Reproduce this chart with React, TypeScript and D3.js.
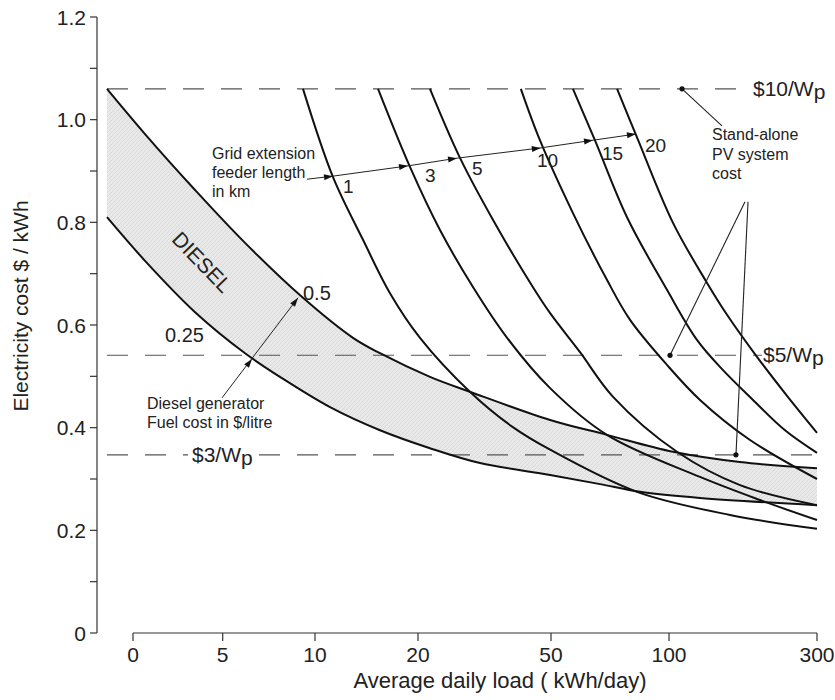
import React from 'react';
import * as d3 from 'd3';

// ---------- data ----------
const xTickValues = [0, 5, 10, 20, 50, 100, 300];
const yTickValues = [0, 0.2, 0.4, 0.6, 0.8, 1.0, 1.2];
const yMinorTickValues = [0.1, 0.3, 0.5, 0.7, 0.9, 1.1];

// Diesel generator cost curves: [load kWh/day, cost $/kWh]
const diesel050 = [[-1.45, 1.06], [0.67, 0.972], [3.46, 0.863], [6.21, 0.76], [9.35, 0.653], [13.69, 0.575], [16.31, 0.545], [22.7, 0.499], [31.7, 0.47], [49.8, 0.415], [73.7, 0.386], [105.4, 0.353], [196, 0.333], [300, 0.321]];
const diesel025 = [[-1.45, 0.81], [0.67, 0.725], [3.46, 0.625], [6.21, 0.545], [8.1, 0.499], [11.46, 0.44], [16.31, 0.395], [22.7, 0.36], [34.0, 0.331], [49.8, 0.308], [70.8, 0.29], [87.7, 0.275], [141.9, 0.263], [300, 0.249]];

// Grid extension cost curves by feeder length (km)
const grid1 = [[9.35, 1.06], [11.75, 0.888], [14.66, 0.766], [17.28, 0.662], [20.45, 0.575], [31.7, 0.47], [41.4, 0.401], [49.8, 0.357], [86.4, 0.275], [182.4, 0.23], [300, 0.203]];
const grid3 = [[16.12, 1.06], [19.22, 0.908], [24.96, 0.785], [32.4, 0.674], [40.1, 0.575], [49.8, 0.477], [73.7, 0.386], [141.9, 0.304], [223, 0.259], [300, 0.22]];
const grid5 = [[22.7, 1.06], [29.5, 0.925], [36.9, 0.805], [45.9, 0.674], [49.8, 0.623], [62.3, 0.547], [76.3, 0.46], [110.8, 0.353], [196, 0.288], [300, 0.249]];
const grid10 = [[43.2, 1.06], [47.5, 0.96], [59.3, 0.818], [73.7, 0.688], [83.5, 0.61], [99.2, 0.522], [141.9, 0.454], [209.5, 0.376], [300, 0.3]];
const grid15 = [[59.3, 1.06], [68.6, 0.96], [82.2, 0.81], [99.2, 0.668], [137.8, 0.571], [173, 0.512], [213.5, 0.454], [256.8, 0.395], [300, 0.351]];
const grid20 = [[78.0, 1.06], [86.4, 0.966], [105.4, 0.799], [151.4, 0.682], [178.4, 0.62], [218.9, 0.538], [259.5, 0.462], [300, 0.39]];
const gridSeries = [grid1, grid3, grid5, grid10, grid15, grid20];
const feederLabels = ['1', '3', '5', '10', '15', '20'];

// Stand-alone PV system cost levels
const pvLabels = ['$10/W', '$5/W', '$3/W'];
const pvCosts = [1.06, 0.541, 0.347];

// Annotation anchor points (data units)
const feederArrow = [[9.57, 0.884], [11.75, 0.89], [19.03, 0.91], [28.8, 0.925], [47.7, 0.945], [67.8, 0.96], [86.0, 0.972]];
const fuelArrow = [[4.96, 0.458], [6.59, 0.534], [9.08, 0.653]];
const pvDots = [[117.6, 1.06], [101.4, 0.541], [190.5, 0.347]];
const pvLineStarts = [[171.6, 0.988], [202.7, 0.84], [206.8, 0.84]];

// ---------- layout ----------
const W = 835, H = 700;
const FONT = '"Liberation Sans", Arial, Helvetica, sans-serif';
const xRange = [133, 222.7, 315, 418, 551, 669, 817];

const xScale = d3.scaleLinear().domain(xTickValues).range(xRange);
const yScale = d3.scaleLinear().domain([0, 1.2]).range([633, 17]);

const lineGen = d3.line<number[]>()
  .x(d => xScale(d[0]))
  .y(d => yScale(d[1]))
  .curve(d3.curveCatmullRom.alpha(0.5));

function arrowHead(p0: number[], p1: number[], len = 9, half = 3) {
  const x0 = xScale(p0[0]), y0 = yScale(p0[1]);
  const x1 = xScale(p1[0]), y1 = yScale(p1[1]);
  const dx = x1 - x0, dy = y1 - y0;
  const L = Math.hypot(dx, dy) || 1;
  const ux = dx / L, uy = dy / L;
  const bx = x1 - ux * len, by = y1 - uy * len;
  return `${x1},${y1} ${bx - uy * half},${by + ux * half} ${bx + uy * half},${by - ux * half}`;
}

export default function App() {
  const shade = lineGen(diesel050) + 'L' + (lineGen(diesel025.slice().reverse()) as string).substring(1) + 'Z';
  const axisColor = '#333';
  const curveColor = '#111';
  const dashColor = '#555';
  const xAxisY = yScale(0);
  const yAxisX = 97;
  const pvLineStartX = xScale(-1.45);
  const pvLineEndX = [xScale(212), xScale(225.7), xScale(300)];
  const pvLabelX = [753, 763, 192];

  const feederPts = feederArrow.map(p => [xScale(p[0]), yScale(p[1])]);
  const feederLabelPos = [[343, 193], [425, 182], [472, 175], [537, 167], [602, 160], [645, 152]];

  return (
    <svg width={W} height={H} style={{ position: 'absolute', left: 0, top: 0, background: '#fff' }} fontFamily={FONT}>
      <defs>
        <pattern id="hatch" width="4" height="4" patternUnits="userSpaceOnUse">
          <rect width="4" height="4" fill="#e9e9e9" />
          <path d="M0,4 L4,0" stroke="#d4d4d4" strokeWidth="0.8" />
        </pattern>
      </defs>

      {/* diesel band shading */}
      <path d={shade} fill="url(#hatch)" stroke="none" />

      {/* PV cost dashed lines */}
      {pvCosts.map((c, i) => (
        <line key={'pv' + i} x1={pvLineStartX} x2={pvLineEndX[i]} y1={yScale(c)} y2={yScale(c)}
          stroke={dashColor} strokeWidth={1.1} strokeDasharray="21 17" />
      ))}
      <rect x={188} y={yScale(pvCosts[2]) - 12} width={70} height={24} fill="#fff" />
      {pvLabels.map((t, i) => (
        <text key={'pvl' + i} x={pvLabelX[i]} y={yScale(pvCosts[i]) + 7} fontSize={21} fill="#222">
          {t}<tspan dy={3}>p</tspan>
        </text>
      ))}

      {/* axes */}
      <line x1={yAxisX} x2={yAxisX} y1={yScale(1.2)} y2={yScale(0)} stroke={axisColor} strokeWidth={1.2} />
      {yTickValues.concat(yMinorTickValues).map(v => (
        <line key={'yt' + v} x1={yAxisX - 7} x2={yAxisX} y1={yScale(v)} y2={yScale(v)} stroke={axisColor} strokeWidth={1.2} />
      ))}
      {yTickValues.map(v => (
        <text key={'yl' + v} x={86} y={yScale(v) + 7.5} fontSize={21} textAnchor="end" fill="#222">
          {v === 0 ? '0' : v.toFixed(1)}
        </text>
      ))}
      <line x1={xScale(0)} x2={xScale(300)} y1={xAxisY} y2={xAxisY} stroke={axisColor} strokeWidth={1.2} />
      {xTickValues.map(v => (
        <g key={'xt' + v}>
          <line x1={xScale(v)} x2={xScale(v)} y1={xAxisY} y2={xAxisY + 8} stroke={axisColor} strokeWidth={1.2} />
          <text x={xScale(v)} y={662} fontSize={21} textAnchor="middle" fill="#222">{v}</text>
        </g>
      ))}
      <text x={500} y={688} fontSize={22} textAnchor="middle" fill="#222">Average daily load ( kWh/day)</text>
      <text transform="translate(28,306) rotate(-90)" fontSize={21} textAnchor="middle" fill="#222">Electricity cost $ / kWh</text>

      {/* curves */}
      <path d={lineGen(diesel050) as string} fill="none" stroke={curveColor} strokeWidth={2} />
      <path d={lineGen(diesel025) as string} fill="none" stroke={curveColor} strokeWidth={2} />
      {gridSeries.map((s, i) => (
        <path key={'g' + i} d={lineGen(s) as string} fill="none" stroke={curveColor} strokeWidth={2} />
      ))}

      {/* feeder arrow */}
      <polyline points={feederPts.map(p => p.join(',')).join(' ')} fill="none" stroke="#222" strokeWidth={1} />
      {feederArrow.slice(1).map((p, i) => (
        <polygon key={'fa' + i} points={arrowHead(feederArrow[i], p)} fill="#111" />
      ))}
      {feederLabels.map((t, i) => (
        <text key={'fl' + i} x={feederLabelPos[i][0]} y={feederLabelPos[i][1]} fontSize={19} fill="#222">{t}</text>
      ))}
      <text fontSize={16} fill="#222">
        <tspan x={212} y={159}>Grid extension</tspan>
        <tspan x={212} y={178}>feeder length</tspan>
        <tspan x={212} y={197}>in km</tspan>
      </text>

      {/* diesel annotations */}
      <text x={202} y={262} fontSize={21} fill="#222" textAnchor="middle" dominantBaseline="central"
        transform="rotate(46,202,262)">DIESEL</text>
      <text x={303} y={300} fontSize={20} fill="#222">0.5</text>
      <text x={165} y={342} fontSize={20} fill="#222">0.25</text>
      <line x1={xScale(fuelArrow[0][0])} y1={yScale(fuelArrow[0][1])} x2={xScale(fuelArrow[2][0])} y2={yScale(fuelArrow[2][1])} stroke="#222" strokeWidth={1} />
      <polygon points={arrowHead(fuelArrow[0], fuelArrow[1])} fill="#111" />
      <polygon points={arrowHead(fuelArrow[1], fuelArrow[2])} fill="#111" />
      <text fontSize={16} fill="#222">
        <tspan x={147} y={409}>Diesel generator</tspan>
        <tspan x={147} y={428}>Fuel cost in $/litre</tspan>
      </text>

      {/* PV annotation */}
      {pvDots.map((p, i) => (
        <g key={'pd' + i}>
          <line x1={xScale(pvLineStarts[i][0])} y1={yScale(pvLineStarts[i][1])} x2={xScale(p[0])} y2={yScale(p[1])} stroke="#222" strokeWidth={1.1} />
          <circle cx={xScale(p[0])} cy={yScale(p[1])} r={2.6} fill="#111" />
        </g>
      ))}
      <text fontSize={16} fill="#222">
        <tspan x={712} y={140}>Stand-alone</tspan>
        <tspan x={712} y={160}>PV system</tspan>
        <tspan x={712} y={179}>cost</tspan>
      </text>
    </svg>
  );
}
